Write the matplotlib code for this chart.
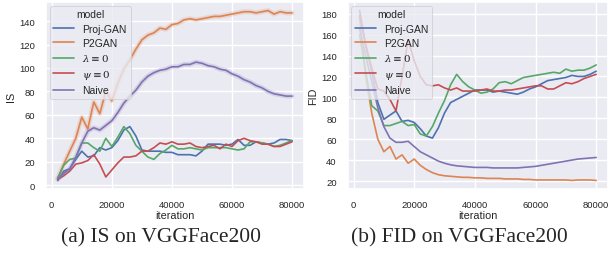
import numpy as np
import matplotlib
matplotlib.use("Agg")
import matplotlib.pyplot as plt
import seaborn as sns

# --- dati ---
iterations = np.arange(2000, 80001, 2000)
model_names = ['Proj-GAN', 'P2GAN', r'$\lambda\equiv0$', r'$\psi\equiv0$', 'Naive']
colors = ['#4C72B0', '#DD8452', '#55A868', '#C44E52', '#8172B3']

is_projgan = [4, 12, 14, 22, 29, 24, 25, 32, 30, 32, 38, 47, 50, 42, 30, 29, 29, 29, 28, 28,
              26, 26, 26, 25, 29, 35, 35, 35, 34, 35, 39, 34, 34, 37, 36, 35, 36, 39, 39, 38]
is_p2gan = [6, 18, 29, 40, 58, 48, 71, 61, 80, 72, 87, 99, 107, 116, 124, 128, 130, 134, 133, 137,
            138, 141, 142, 141, 142, 143, 144, 144, 145, 146, 147, 148, 148, 147, 148, 149, 146, 148, 147, 147]
is_lambda0 = [6, 17, 22, 23, 36, 36, 32, 29, 40, 33, 41, 50, 44, 34, 29, 24, 22, 27, 30, 34,
              31, 31, 32, 31, 30, 32, 32, 32, 32, 31, 30, 31, 37, 37, 36, 35, 33, 34, 36, 38]
is_psi0 = [5, 8, 12, 18, 19, 21, 26, 18, 7, 13, 19, 24, 24, 25, 29, 29, 32, 36, 35, 37,
           35, 35, 36, 33, 32, 33, 34, 31, 35, 33, 38, 40, 38, 37, 35, 35, 33, 33, 35, 37]
is_naive = [5, 10, 14, 24, 36, 46, 49, 47, 51, 55, 62, 70, 76, 81, 88, 93, 96, 98, 99, 101,
            101, 103, 103, 105, 104, 102, 101, 99, 98, 95, 93, 90, 88, 85, 83, 80, 78, 77, 76, 76]

fid_projgan = [183, 150, 125, 95, 79, 83, 87, 77, 78, 76, 70, 63, 61, 71, 85, 95, 98, 101, 104, 107,
               107, 107, 105, 106, 105, 104, 103, 105, 108, 110, 113, 116, 117, 118, 119, 121, 120, 120, 122, 125]
fid_p2gan = [176, 120, 85, 60, 48, 53, 41, 45, 37, 41, 35, 31, 28, 26, 25, 24.5, 24, 23.5, 23.5, 23,
             23, 22.5, 22.5, 22.5, 22, 22, 22, 21.5, 21.5, 21, 21, 21, 21, 21, 21, 20.5, 21, 21, 21, 20.5]
fid_lambda0 = [160, 125, 92, 87, 73, 73, 75, 77, 73, 74, 65, 63, 72, 85, 97, 112, 122, 115, 110, 107,
               104, 105, 108, 114, 115, 113, 116, 119, 120, 121, 122, 123, 124, 123, 127, 125, 126, 126, 128, 131]
fid_psi0 = [178, 150, 128, 108, 106, 98, 87, 120, 155, 135, 120, 112, 111, 112, 109, 107, 109, 106, 106, 106,
            107, 108, 106, 106, 107, 107, 108, 109, 110, 111, 111, 108, 108, 111, 114, 113, 115, 118, 120, 122]
fid_naive = [165, 140, 115, 90, 72, 61, 57, 57, 58, 53, 48, 45, 42, 39, 37, 35.5, 34.5, 34, 33.5, 33,
             33, 33, 32.5, 32.5, 32.5, 32.5, 32.5, 33, 33.5, 34, 35, 36, 37, 38, 39, 40, 41, 41.5, 42, 42.5]

is_series = [is_projgan, is_p2gan, is_lambda0, is_psi0, is_naive]
fid_series = [fid_projgan, fid_p2gan, fid_lambda0, fid_psi0, fid_naive]

# --- grafico ---
sns.set_theme(style='darkgrid')
plt.rcParams['font.family'] = ['Liberation Sans', 'DejaVu Sans']
plt.rcParams['mathtext.fontset'] = 'dejavuserif'

fig = plt.figure(figsize=(6.08, 2.55), dpi=100)
ax1 = fig.add_axes([0.0757, 0.255, 0.424, 0.733])
ax2 = fig.add_axes([0.572, 0.255, 0.428, 0.733])


def draw_panel(ax, series, ylabel, shaded):
    for name, values, col in zip(model_names, series, colors):
        if shaded and name in ('P2GAN', 'Naive'):
            # leggera banda di confidenza
            ax.plot(iterations, values, color=col, linewidth=3.5, alpha=0.2)
        ax.plot(iterations, values, color=col, linewidth=1.2, label=name)
    ax.set_xlabel('iteration', fontsize=7.8, labelpad=1)
    ax.set_ylabel(ylabel, fontsize=7.8, labelpad=2)
    ax.set_xticks([0, 20000, 40000, 60000, 80000])
    ax.tick_params(axis='both', labelsize=6.8, pad=2)
    leg = ax.legend(title='model', loc='upper left', fontsize=7.5, title_fontsize=7.5,
                    handlelength=2.0, handletextpad=0.8, labelspacing=0.42,
                    borderpad=0.35, borderaxespad=0.35)
    leg.get_frame().set_linewidth(0.6)


draw_panel(ax1, is_series, 'IS', True)
draw_panel(ax2, fid_series, 'FID', False)

fig.text(0.265, 0.067, '(a) IS on VGGFace200', ha='center', va='center',
         fontsize=15.5, family='Liberation Serif')
fig.text(0.755, 0.067, '(b) FID on VGGFace200', ha='center', va='center',
         fontsize=15.5, family='Liberation Serif')

plt.savefig('out.png', dpi=100)
